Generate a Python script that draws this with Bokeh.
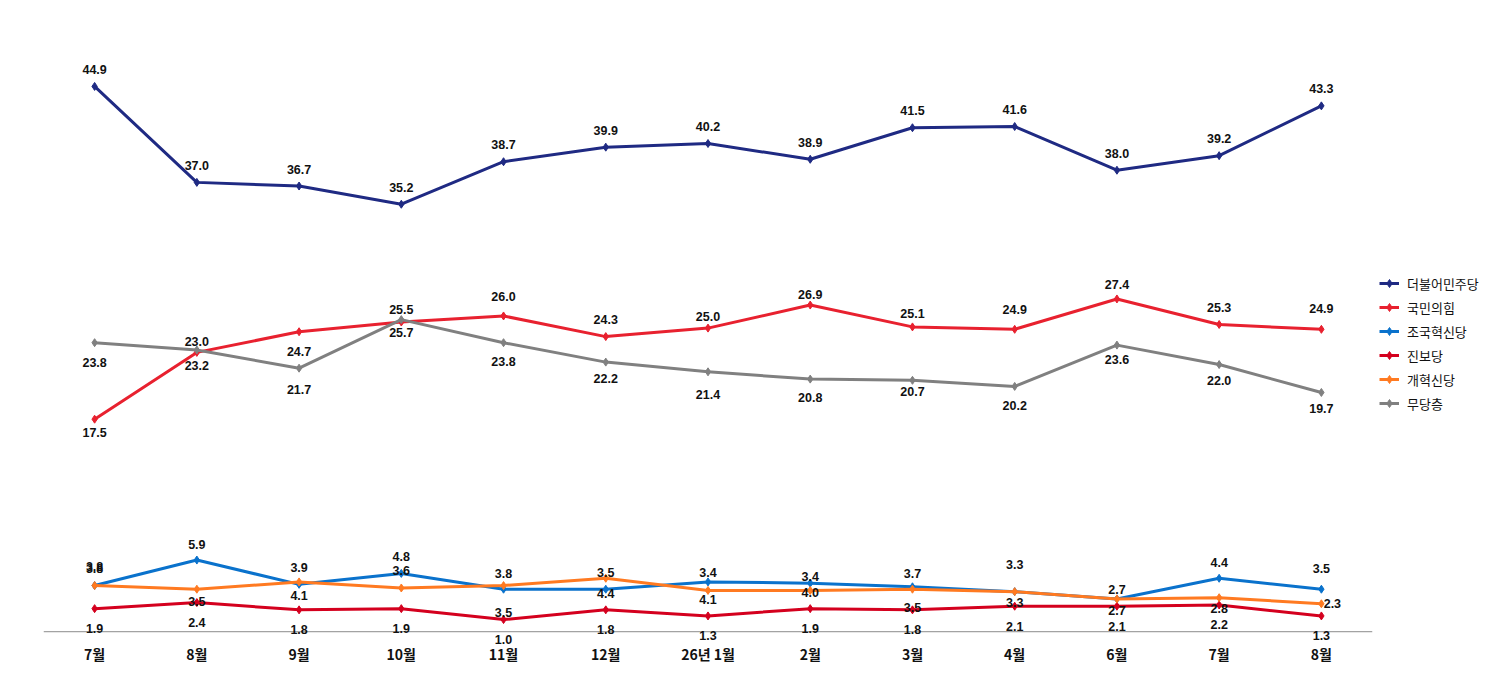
from bokeh.plotting import figure
from bokeh.models import Range1d, FixedTicker, Legend, LegendItem, ColumnDataSource, LabelSet, Span
from bokeh.core.properties import value
from bokeh.embed import file_html
from bokeh.resources import INLINE

months = ["7월", "8월", "9월", "10월", "11월", "12월", "26년 1월", "2월", "3월", "4월", "6월", "7월", "8월"]
dem = [44.9, 37.0, 36.7, 35.2, 38.7, 39.9, 40.2, 38.9, 41.5, 41.6, 38.0, 39.2, 43.3]
ppp = [17.5, 23.0, 24.7, 25.5, 26.0, 24.3, 25.0, 26.9, 25.1, 24.9, 27.4, 25.3, 24.9]
cho = [3.8, 5.9, 3.9, 4.8, 3.5, 3.5, 4.1, 4.0, 3.7, 3.3, 2.7, 4.4, 3.5]
jinbo = [1.9, 2.4, 1.8, 1.9, 1.0, 1.8, 1.3, 1.9, 1.8, 2.1, 2.1, 2.2, 1.3]
reform = [3.8, 3.5, 4.1, 3.6, 3.8, 4.4, 3.4, 3.4, 3.5, 3.3, 2.7, 2.8, 2.3]
nonpartisan = [23.8, 23.2, 21.7, 25.7, 23.8, 22.2, 21.4, 20.8, 20.7, 20.2, 23.6, 22.0, 19.7]

names = ["더불어민주당", "국민의힘", "조국혁신당", "진보당", "개혁신당", "무당층"]

# label placement (screen px offsets, positive = down; styling only)
dem_dy = [-17] * 13
ppp_dy = [13, -11, 20, -13, -19, -17, -12, -11, -13, -20, -14, -17, -21]
cho_dy = [-17, -16, -17, -17, 23, -17, 18, 9, -13, -27, -9, -16, -21]
jinbo_dy = [20] * 13
reform_dy = [-19, 12, 14, -17, -12, 15, -18, -14, 18, 11, 12, 11, 0]
reform_dx = [0] * 12 + [11]
non_dy = [20, 16, 21, 13, 19, 16, 23, 18, 11, 19, 14, 16, 16]

series = [
    (names[0], dem, "#1F2A83", dem_dy, [0] * 13),
    (names[1], ppp, "#E8212F", ppp_dy, [0] * 13),
    (names[2], cho, "#0A72CC", cho_dy, [0] * 13),
    (names[3], jinbo, "#D4001E", jinbo_dy, [0] * 13),
    (names[4], reform, "#FF7A21", reform_dy, reform_dx),
    (names[5], nonpartisan, "#808080", non_dy, [0] * 13),
]

xs = list(range(len(months)))
y_lo, y_hi = -1.3, 50.0
px_per_unit = 12.14

p = figure(frame_width=1329, frame_height=round((y_hi - y_lo) * px_per_unit),
           output_backend="svg", toolbar_location=None,
           x_range=Range1d(-0.5, len(months) - 0.5), y_range=Range1d(y_lo, y_hi),
           min_border_left=43, min_border_top=24, min_border_bottom=10, min_border_right=0)
p.outline_line_color = None
p.xgrid.visible = False
p.ygrid.visible = False
p.yaxis.visible = False
p.background_fill_color = "white"

xa = p.xaxis[0]
xa.ticker = FixedTicker(ticks=xs)
xa.major_label_overrides = {i: m for i, m in enumerate(months)}
xa.major_tick_line_color = None
xa.minor_tick_line_color = None
xa.axis_line_color = None
xa.major_label_standoff = -10
xa.major_label_text_font = "Noto Sans CJK KR"
xa.major_label_text_font_style = "bold"
xa.major_label_text_font_size = "14px"
xa.major_label_text_color = "#111111"

p.add_layout(Span(location=0, dimension="width", line_color="#8C8C8C", line_width=1))

items = []
for name, vals, color, dy, dx in series:
    src = ColumnDataSource(dict(x=xs, y=vals, lab=[f"{v:.1f}" for v in vals],
                                dy=[-d for d in dy], dx=dx))
    ln = p.line("x", "y", source=src, line_color=color, line_width=3)
    sc = p.scatter("x", "y", source=src, marker="diamond", size=8, fill_color=color, line_color=color)
    labels = LabelSet(x="x", y="y", text="lab", source=src, x_offset="dx", y_offset="dy",
                      text_align="center", text_baseline="middle",
                      text_font=value("Liberation Sans"), text_font_style="bold",
                      text_font_size="12.5px", text_color="#111111")
    p.add_layout(labels)
    items.append(LegendItem(label=name, renderers=[ln, sc]))

legend = Legend(items=items, location=(7, 234), orientation="vertical")
legend.border_line_color = None
legend.background_fill_alpha = 0
legend.margin = 5
legend.padding = 5
legend.spacing = 4
legend.glyph_width = 20
legend.label_standoff = 8
legend.label_text_font = "Noto Sans CJK KR"
legend.label_text_font_size = "13px"
legend.label_text_color = "#111111"
p.add_layout(legend, "right")

open("out.html", "w").write(file_html(p, INLINE))
